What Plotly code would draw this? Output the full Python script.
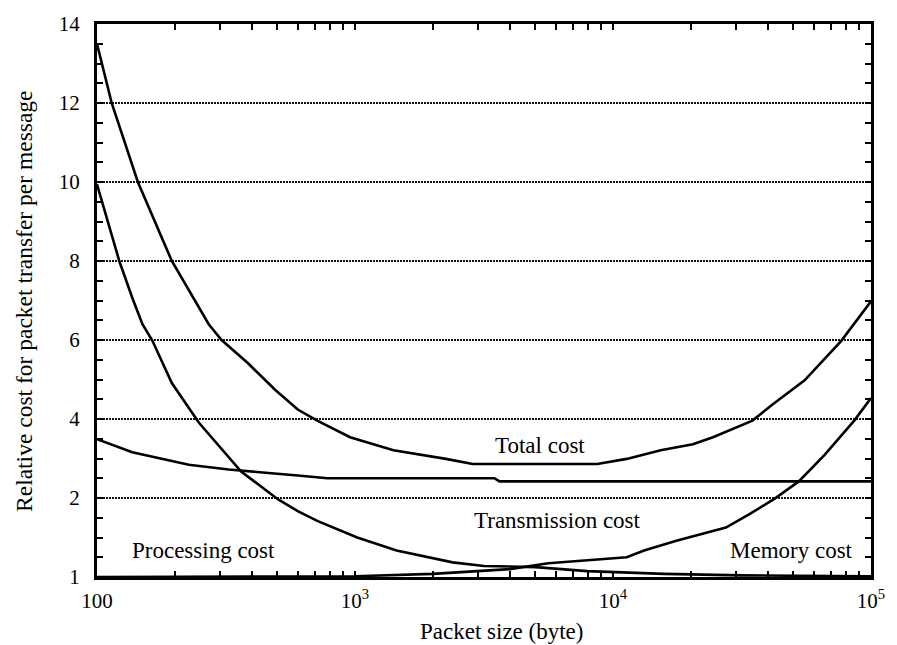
import plotly.graph_objects as go

# Packet size (byte) and relative costs
total_x = [100, 114, 144, 195, 271, 304, 385, 490, 600, 714, 957, 1410, 2250, 2860,
           8690, 11300, 15300, 20400, 24400, 34700, 41400, 55300, 76700, 100000]
total_y = [13.5, 12.0, 10.0, 8.0, 6.4, 6.0, 5.41, 4.74, 4.24, 3.96, 3.54, 3.21, 2.99, 2.86,
           2.86, 2.99, 3.21, 3.36, 3.54, 3.96, 4.36, 4.98, 5.98, 6.98]

trans_x = [100, 137, 227, 324, 600, 782, 3470, 3630, 100000]
trans_y = [3.49, 3.16, 2.84, 2.72, 2.57, 2.5, 2.5, 2.42, 2.42]

proc_x = [100, 122, 137, 150, 164, 195, 248, 362, 502, 600, 714, 1020, 1450, 1940,
          2390, 3160, 5010, 7940, 15800, 31600, 100000]
proc_y = [9.94, 8.0, 7.07, 6.4, 5.98, 4.91, 3.91, 2.67, 1.97, 1.67, 1.42, 1.0, 0.67, 0.5,
          0.37, 0.28, 0.25, 0.15, 0.08, 0.04, 0.02]

mem_x = [100, 1000, 2000, 3980, 5620, 8910, 11300, 13200, 17600, 27400, 33800, 42500,
         52500, 66100, 86100, 100000]
mem_y = [0.0, 0.02, 0.08, 0.2, 0.35, 0.45, 0.5, 0.67, 0.92, 1.25, 1.59, 1.99,
         2.42, 3.09, 3.96, 4.53]

x_tickvals = [100, 1000, 10000, 100000]
x_ticktext = ["100", "10<sup>3</sup>", "10<sup>4</sup>", "10<sup>5</sup>"]
x_minor = [m * d for d in (100, 1000, 10000) for m in range(2, 10)]
y_tickvals = [0, 2, 4, 6, 8, 10, 12, 14]
y_ticktext = ["1", "2", "4", "6", "8", "10", "12", "14"]
y_minor = [v / 2 for v in range(1, 28) if v % 4 != 0]

labels = [
    ("Total cost", 3.716, 3.34),
    ("Transmission cost", 3.785, 1.42),
    ("Processing cost", 2.414, 0.67),
    ("Memory cost", 4.693, 0.67),
]
x_title = "Packet size (byte)"
y_title = "Relative cost for packet transfer per message"

FONT = "Liberation Serif"
fig = go.Figure()
for xs, ys, name in [(total_x, total_y, "Total cost"), (trans_x, trans_y, "Transmission cost"),
                     (proc_x, proc_y, "Processing cost"), (mem_x, mem_y, "Memory cost")]:
    fig.add_trace(go.Scatter(x=xs, y=ys, mode="lines", name=name,
                             line=dict(color="black", width=2.6), showlegend=False))

# invisible trace so that the mirrored (top/right) tick axes are drawn
fig.add_trace(go.Scatter(x=[100], y=[-5], xaxis="x2", yaxis="y2", mode="markers",
                         marker=dict(opacity=0), showlegend=False, hoverinfo="skip"))

for text, lx, ly in labels:
    fig.add_annotation(x=lx, y=ly, text=text, showarrow=False,
                       font=dict(family=FONT, size=23, color="black"), bgcolor="white")

# axis titles as paper-positioned annotations
fig.add_annotation(xref="paper", yref="paper", x=0.522, y=-0.098, text=x_title,
                   showarrow=False, xanchor="center", yanchor="middle",
                   font=dict(family=FONT, size=23, color="black"))
fig.add_annotation(xref="paper", yref="paper", x=-0.095, y=0.5, text=y_title,
                   showarrow=False, xanchor="center", yanchor="middle", textangle=-90,
                   font=dict(family=FONT, size=23.5, color="black"))

tick_common = dict(ticks="inside", ticklen=6, tickwidth=2, tickcolor="black")

fig.update_layout(
    width=897, height=645,
    margin=dict(l=97, r=17, t=15, b=68),
    paper_bgcolor="white", plot_bgcolor="white",
    font=dict(family=FONT, color="black"),
    xaxis=dict(
        type="log", range=[2, 5],
        tickvals=x_tickvals, ticktext=x_ticktext,
        tickfont=dict(family=FONT, size=21, color="black"),
        minor=dict(tickvals=x_minor, showgrid=False, **tick_common),
        showgrid=False, zeroline=False,
        showline=True, linecolor="black", linewidth=3, mirror=True,
        ticklabelstandoff=3,
        **tick_common,
    ),
    yaxis=dict(
        range=[0, 14],
        tickvals=y_tickvals, ticktext=y_ticktext,
        tickfont=dict(family=FONT, size=21, color="black"),
        minor=dict(tickvals=y_minor, showgrid=False, **tick_common),
        showgrid=True, gridcolor="#111111", gridwidth=1.5, griddash="2px,1px",
        zeroline=False,
        showline=True, linecolor="black", linewidth=3, mirror=True,
        ticklabelstandoff=10,
        **tick_common,
    ),
    xaxis2=dict(
        type="log", range=[2, 5], overlaying="x", side="top",
        tickvals=x_tickvals + x_minor, showticklabels=False,
        showgrid=False, zeroline=False, showline=False, **tick_common,
    ),
    yaxis2=dict(
        range=[0, 14], overlaying="y", side="right",
        tickvals=y_tickvals + y_minor, showticklabels=False,
        showgrid=False, zeroline=False, showline=False, **tick_common,
    ),
)
fig.write_html("out.html")
